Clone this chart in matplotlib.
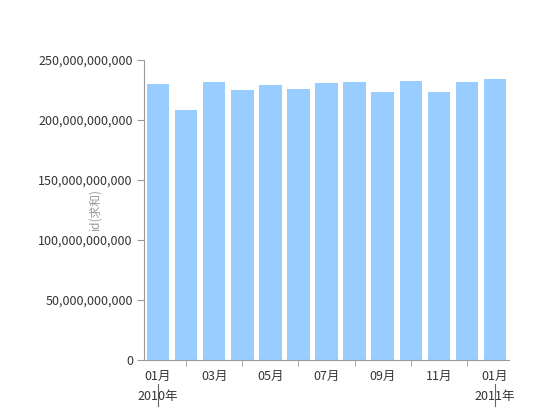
import numpy as np
import matplotlib.pyplot as plt
import matplotlib.transforms as mtransforms

plt.rcParams['font.family'] = ['Noto Sans CJK SC', 'DejaVu Sans']

# 数据
months = ['01月', '02月', '03月', '04月', '05月', '06月', '07月',
          '08月', '09月', '10月', '11月', '12月', '01月']
years = ['2010年', '2011年']
values = [230.0, 208.3, 231.4, 225.0, 229.4, 225.6, 230.8,
          231.4, 223.3, 232.2, 223.6, 231.4, 233.9]  # 十亿
values = np.array(values) * 1e9

fig = plt.figure(figsize=(5.5, 4.2), dpi=100)
ax = fig.add_axes([144/550, 1-360/420, 365/550, 300/420])

x = np.arange(len(months))
ax.bar(x, values, width=0.8, color='#99CCFF')

ax.set_xlim(-0.5, len(months) - 0.5)
ax.set_ylim(0, 250e9)
ax.set_yticks(np.arange(0, 250e9 + 1, 50e9))
ax.yaxis.set_major_formatter(plt.FuncFormatter(lambda v, p: f'{int(v):,}'))

# 主刻度: 奇数月标签, 次刻度: 偶数月短线
ax.set_xticks(x[::2])
ax.set_xticklabels(months[::2])
ax.set_xticks(x[1::2], minor=True)
ax.tick_params(axis='x', which='major', length=0, pad=7, labelsize=9, colors='#333333')
ax.tick_params(axis='x', which='minor', length=4, color='#999999')
ax.tick_params(axis='y', length=5, color='#999999', labelsize=9, labelcolor='#333333', pad=3)

for s in ['top', 'right']:
    ax.spines[s].set_visible(False)
for s in ['left', 'bottom']:
    ax.spines[s].set_color('#999999')
    ax.spines[s].set_linewidth(0.8)

# 年份
trans = mtransforms.blended_transform_factory(ax.transData, ax.transAxes)
for xi, yr in zip([0, len(months) - 1], years):
    ax.text(xi, -0.123, yr, transform=trans, ha='center', va='center',
            fontsize=9, color='#333333')
    ax.plot([xi, xi], [-0.08, -0.153], color='#666666', lw=0.8,
            transform=trans, clip_on=False)

ax.text(95/550, 0.5, 'id(求和)', transform=fig.transFigure, rotation=90,
        ha='center', va='center', fontsize=8.5, color='#999999')

plt.savefig('out.png', dpi=100)
